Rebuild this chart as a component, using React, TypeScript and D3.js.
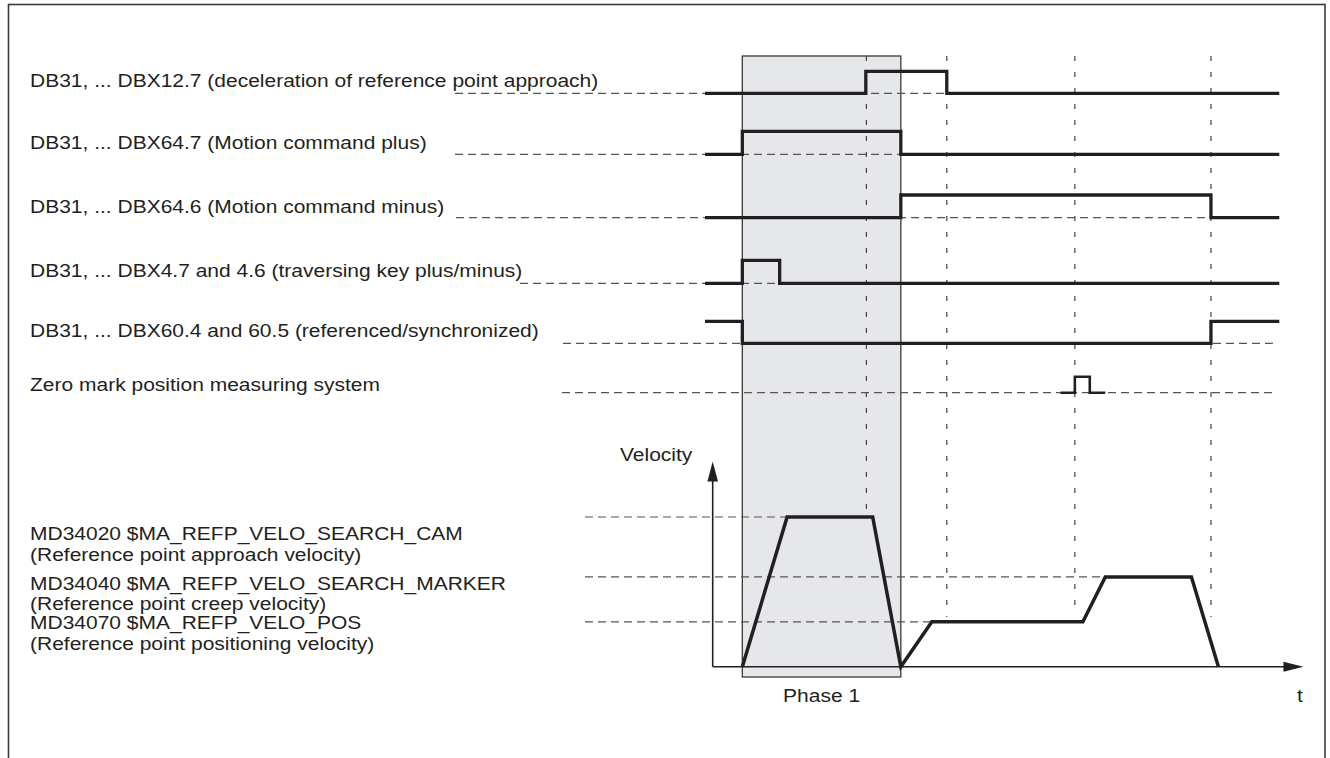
import React from 'react';
import * as d3 from 'd3';

// ---------- data ----------
const signalLabels: string[] = [
  'DB31, ... DBX12.7 (deceleration of reference point approach)',
  'DB31, ... DBX64.7 (Motion command plus)',
  'DB31, ... DBX64.6 (Motion command minus)',
  'DB31, ... DBX4.7 and 4.6 (traversing key plus/minus)',
  'DB31, ... DBX60.4 and 60.5 (referenced/synchronized)',
  'Zero mark position measuring system',
];

// step signals: [time, level(0/1)]
const sigDecel: [number, number][] = [[0, 0], [28, 1], [42.1, 0], [100, 0]];
const sigPlus: [number, number][] = [[0, 0], [6.5, 1], [34.1, 0], [100, 0]];
const sigMinus: [number, number][] = [[0, 0], [34.1, 1], [88.1, 0], [100, 0]];
const sigKey: [number, number][] = [[0, 0], [6.5, 1], [13, 0], [100, 0]];
const sigRef: [number, number][] = [[0, 1], [6.5, 0], [88.1, 1], [100, 1]];
const sigZero: [number, number][] = [[61.9, 0], [64.4, 1], [67, 0], [69.7, 0]];
const signals = [sigDecel, sigPlus, sigMinus, sigKey, sigRef, sigZero];

const eventTimes: number[] = [28.1, 42.1, 64.4, 88.1];
const phaseStart = 6.5;
const phaseEnd = 34.1;
const phaseLabel = 'Phase 1';

const velocityLevels: number[] = [100, 60, 30];
const velocityLabels: string[][] = [
  ['MD34020 $MA_REFP_VELO_SEARCH_CAM', '(Reference point approach velocity)'],
  ['MD34040 $MA_REFP_VELO_SEARCH_MARKER', '(Reference point creep velocity)'],
  ['MD34070 $MA_REFP_VELO_POS', '(Reference point positioning velocity)'],
];
const velocityProfile: [number, number][] = [
  [6.5, 0], [14.3, 100], [29.2, 100], [34.1, 0], [39.5, 30],
  [65.8, 30], [69.7, 60], [84.7, 60], [89.4, 0],
];
const velocityAxisLabel = 'Velocity';
const timeAxisLabel = 't';

// ---------- layout ----------
const W = 1330;
const H = 758;
const FONT = '"Liberation Sans", Arial, Helvetica, sans-serif';
const FS = 21;
const SY = 0.9;
const INK = '#231f20';

const rowY = [93.3, 154.3, 217.7, 283.3, 343.3, 392.7];
const rowH = [22, 23, 22.7, 23, 22, 16];
const labelBase = [87, 149, 213, 277, 337, 391];
const dashStart = [455, 455, 456, 520, 563, 562];
const dashEnd = [1279, 1279, 1279, 1279, 1277, 1277];
const eventBottoms = [510, 617, 605, 617];
const velLabelBase = [[540, 561], [590, 610], [629, 650]];

function T({ x, y, anchor, children }: { x: number; y: number; anchor?: string; children: React.ReactNode }) {
  return (
    <text transform={`translate(${x},${y}) scale(1,${SY})`} textAnchor={anchor || 'start'}>
      {children}
    </text>
  );
}

export default function App() {
  const x = d3.scaleLinear().domain([0, 100]).range([705, 1279.3]);
  const vy = d3.scaleLinear().domain([0, 100]).range([666.7, 517]);
  const topY = 56;
  const boxBottom = 677;
  const axisX = x(1.34);
  const axisTopY = vy(137);
  const axisRightX = x(104.2);

  const stepLine = (row: number) => {
    const ys = d3.scaleLinear().domain([0, 1]).range([rowY[row], rowY[row] - rowH[row]]);
    return d3
      .line<[number, number]>()
      .x((d) => x(d[0]))
      .y((d) => ys(d[1]))
      .curve(d3.curveStepAfter);
  };

  const velLine = d3
    .line<[number, number]>()
    .x((d) => x(d[0]))
    .y((d) => vy(d[1]));

  const levelReach = (lvl: number) => {
    const p = velocityProfile.find((d) => d[1] === lvl);
    return p ? x(p[0]) : x(0);
  };

  return (
    <svg
      width={W}
      height={H}
      viewBox={`0 0 ${W} ${H}`}
      style={{ position: 'absolute', left: 0, top: 0, background: '#fff' }}
      fontFamily={FONT}
    >
      <rect x={0} y={0} width={W} height={H} fill="#fff" />
      {/* frame */}
      <rect x={8.5} y={4.5} width={1316.5} height={800} fill="none" stroke="#3a3a3a" strokeWidth={1.6} />

      {/* phase box */}
      <rect
        x={x(phaseStart)}
        y={topY}
        width={x(phaseEnd) - x(phaseStart)}
        height={boxBottom - topY}
        fill="#e6e7eb"
        stroke="#3a3a3a"
        strokeWidth={1.3}
      />

      {/* event dashed verticals */}
      {eventTimes.map((t, i) => (
        <line
          key={'ev' + i}
          x1={x(t)}
          x2={x(t)}
          y1={topY}
          y2={eventBottoms[i]}
          stroke="#444"
          strokeWidth={1.2}
          strokeDasharray="5,11"
        />
      ))}

      {/* signal baselines (dashed) */}
      {signals.map((_, i) => (
        <line
          key={'bl' + i}
          x1={dashStart[i]}
          x2={dashEnd[i]}
          y1={rowY[i]}
          y2={rowY[i]}
          stroke="#555"
          strokeWidth={1.2}
          strokeDasharray="8,5"
        />
      ))}

      {/* velocity level dashed lines */}
      {velocityLevels.map((lvl, i) => (
        <line
          key={'vl' + i}
          x1={585}
          x2={levelReach(lvl)}
          y1={vy(lvl)}
          y2={vy(lvl)}
          stroke="#555"
          strokeWidth={1.2}
          strokeDasharray="8,5"
        />
      ))}

      {/* signals */}
      {signals.map((s, i) => (
        <path
          key={'sg' + i}
          d={stepLine(i)(s) || ''}
          fill="none"
          stroke={INK}
          strokeWidth={i === 5 ? 2.6 : 3.3}
          strokeLinejoin="miter"
        />
      ))}

      {/* velocity axes */}
      <line x1={axisX} x2={axisX} y1={vy(0)} y2={axisTopY + 18} stroke={INK} strokeWidth={1.6} />
      <path
        d={`M${axisX},${axisTopY} L${axisX - 5.3},${axisTopY + 20} L${axisX + 5.3},${axisTopY + 20} Z`}
        fill={INK}
      />
      <line x1={axisX} x2={axisRightX - 18} y1={vy(0)} y2={vy(0)} stroke={INK} strokeWidth={1.6} />
      <path
        d={`M${axisRightX},${vy(0)} L${axisRightX - 20},${vy(0) - 5} L${axisRightX - 20},${vy(0) + 5} Z`}
        fill={INK}
      />

      {/* velocity profile */}
      <path d={velLine(velocityProfile) || ''} fill="none" stroke={INK} strokeWidth={3.5} strokeLinejoin="miter" />

      {/* texts */}
      <g fill={INK} fontSize={FS}>
        {signalLabels.map((t, i) => (
          <T key={'lt' + i} x={30} y={labelBase[i]}>
            {t}
          </T>
        ))}
        {velocityLabels.map((pair, i) =>
          pair.map((t, j) => (
            <T key={'vt' + i + '_' + j} x={30} y={velLabelBase[i][j]}>
              {t}
            </T>
          ))
        )}
        <T x={620} y={461}>
          {velocityAxisLabel}
        </T>
        <T x={(x(phaseStart) + x(phaseEnd)) / 2} y={702} anchor="middle">
          {phaseLabel}
        </T>
        <T x={1297} y={702}>
          {timeAxisLabel}
        </T>
      </g>
    </svg>
  );
}
